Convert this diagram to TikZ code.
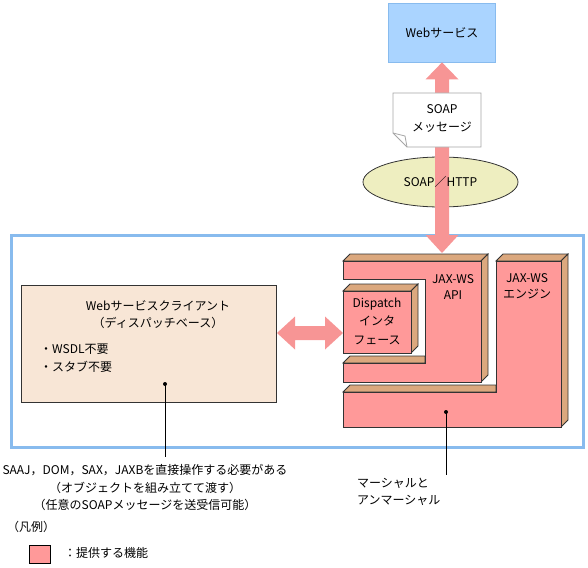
\documentclass[tikz,border=0pt]{standalone}
\usepackage{fontspec}
\setmainfont{Noto Sans CJK JP}
\usetikzlibrary{calc,shapes.geometric}
\definecolor{pinkf}{HTML}{FF9999}
\definecolor{tanf}{HTML}{DBA87E}
\definecolor{arrowc}{HTML}{F79595}
\definecolor{framec}{HTML}{88BBEE}
\definecolor{wsfill}{HTML}{AAD4FF}
\definecolor{clientf}{HTML}{F8E6D6}
\definecolor{ellf}{HTML}{EEEEC0}
\definecolor{edge}{HTML}{333333}
\tikzset{
  txt/.style={inner sep=0pt, font=\fontsize{12}{17.5}\selectfont},
  front/.style={fill=pinkf, draw=edge, line width=0.8pt, line join=miter},
  side/.style={fill=tanf, draw=edge, line width=0.8pt, line join=miter},
  blockarrow/.style={fill=arrowc},
  leader/.style={draw=black, line width=0.8pt},
  dotmark/.style={circle, fill=black, inner sep=0pt, minimum size=4pt},
}
\begin{document}
\begin{tikzpicture}[x=1pt,y=-1pt]
\useasboundingbox (0,0) rectangle (588,567);

% outer frame
\node[draw=framec, line width=3pt, minimum width=572pt, minimum height=212pt, inner sep=0pt, anchor=north west] (frame) at (10,234) {};

% web service
\node[draw=framec, fill=wsfill, line width=0.8pt, minimum width=107pt, minimum height=59pt, inner sep=0pt, txt] (ws) at (442,32.5) {Webサービス};

% SOAP/HTTP ellipse (text later, on top of the arrow)
\node[ellipse, draw=edge, fill=ellf, line width=0.8pt, minimum width=155pt, minimum height=50pt, inner sep=0pt] (ell) at (440.5,182) {};

% JAX-WS API (C shape)
\fill[side] (343,261) -- (350,254) -- (488,254) -- (481,261) -- cycle;
\fill[side] (481,261) -- (488,254) -- (488,375) -- (481,382) -- cycle;
\fill[side] (343,363) -- (350,356) -- (425,356) -- (425,363) -- cycle;
\fill[front] (343,261) -- (481,261) -- (481,382) -- (343,382) -- (343,363) -- (425,363) -- (425,279) -- (343,279) -- cycle;
\node[txt, align=center, font=\fontsize{12}{16.5}\selectfont] (api) at (453,287) {JAX-WS\\API};

% JAX-WS engine (L shape)
\fill[side] (496,261) -- (503,254) -- (568,254) -- (561,261) -- cycle;
\fill[side] (561,261) -- (568,254) -- (568,420) -- (561,427) -- cycle;
\fill[side] (343,392) -- (350,385) -- (496,385) -- (496,392) -- cycle;
\fill[front] (496,261) -- (561,261) -- (561,427) -- (343,427) -- (343,392) -- (496,392) -- cycle;
\node[txt, align=center, font=\fontsize{12}{16.5}\selectfont] (eng) at (527,286) {JAX-WS\\エンジン};

% Dispatch interface
\fill[side] (343,291) -- (350,284) -- (418,284) -- (411,291) -- cycle;
\fill[side] (411,291) -- (418,284) -- (418,346) -- (411,353) -- cycle;
\node[front, minimum width=68pt, minimum height=62pt, inner sep=0pt, anchor=north west] (disp) at (343,291) {};
\node[txt, align=center, font=\fontsize{12}{18.5}\selectfont] (disptext) at (377,321) {Dispatch\\インタ\\フェース};

% client
\node[draw=edge, fill=clientf, line width=0.8pt, minimum width=255pt, minimum height=117pt, inner sep=0pt, anchor=north west] (client) at (21,285) {};
\node[txt, align=center] (ctitle) at (158,314.5) {Webサービスクライアント\\（ディスパッチベース）};
\node[txt, align=left, anchor=west] (cbul) at (40,358) {・WSDL不要\\・スタブ不要};

% vertical double arrow
\coordinate (apitip) at (442,253);
\fill[blockarrow] let \p1=(ws.south), \p2=(apitip) in
  (\p1) -- ++(16.5pt,-17pt) -- ++(-9.5pt,0) -- (\x1+7pt,\y2+18pt) -- ++(9.5pt,0) -- (\p2)
  -- ++(-16.5pt,18pt) -- ++(9.5pt,0) -- (\x1-7pt,\y1-17pt) -- ++(-9.5pt,0) -- cycle;
\node[txt] (elltext) at (ell) {SOAP／HTTP};

% SOAP message document
\filldraw[fill=white, draw=gray!70, line width=0.8pt] (393,93) -- (481,93) -- (481,147) -- (407,147) -- (393,133) -- cycle;
\draw[gray!70, line width=0.8pt] (393,133) -- (405,136) -- (407,147);
\node[txt, align=center] (msg) at (442,118.5) {SOAP\\メッセージ};

% horizontal double arrow
\coordinate (hl) at (277,333);
\coordinate (hr) at (343,333);
\fill[blockarrow] let \p1=(hl), \p2=(hr) in
  (\p1) -- ++(18pt,16.5pt) -- ++(0,-9.5pt) -- (\x2-18pt,\y1+7pt) -- ++(0,9.5pt) -- (\p2)
  -- ++(-18pt,-16.5pt) -- ++(0,9.5pt) -- (\x1+18pt,\y1-7pt) -- ++(0,-9.5pt) -- cycle;

% leaders and annotations
\node[dotmark] (cdot) at (165,384) {};
\coordinate (cend) at (165,457);
\draw[leader] (cdot.center) -- (cend);
\node[txt, align=center] (note1) at (145,487.5) {SAAJ，DOM，SAX，JAXBを直接操作する必要がある\\（オブジェクトを組み立てて渡す）\\（任意のSOAPメッセージを送受信可能）};

\node[dotmark] (edot) at (446,412) {};
\coordinate (eend) at (446,475);
\draw[leader] (edot.center) -- (eend);
\node[txt, align=left, anchor=west] (note2) at (357,492) {マーシャルと\\アンマーシャル};

% legend
\node[txt, anchor=west] (leg) at (7,527) {（凡例）};
\node[draw=black, fill=pinkf, line width=0.8pt, minimum width=21pt, minimum height=18pt, inner sep=0pt, anchor=north west] (legbox) at (29,545) {};
\node[txt, anchor=west] (legtext) at (64,553) {：提供する機能};
\end{tikzpicture}
\end{document}
